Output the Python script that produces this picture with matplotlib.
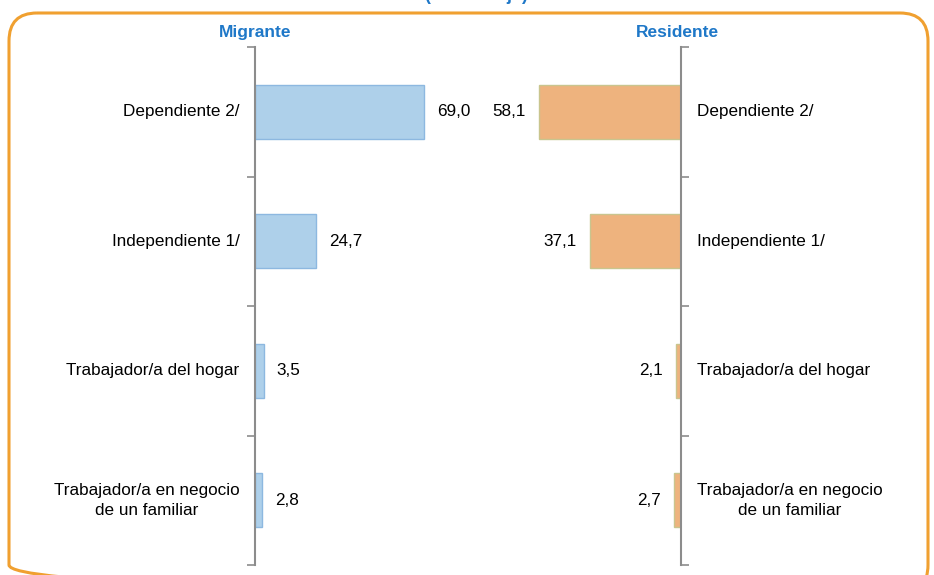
import matplotlib.pyplot as plt
from matplotlib.patches import FancyBboxPatch
from matplotlib import font_manager

categorias = ['Dependiente 2/', 'Independiente 1/', 'Trabajador/a del hogar',
              'Trabajador/a en negocio\nde un familiar']
migrante = [69.0, 24.7, 3.5, 2.8]
residente = [58.1, 37.1, 2.1, 2.7]

names = {f.name for f in font_manager.fontManager.ttflist}
fuente = 'Liberation Sans Narrow' if 'Liberation Sans Narrow' in names else 'Liberation Sans'
plt.rcParams['font.family'] = [fuente, 'DejaVu Sans']

W, H = 934, 575
fig = plt.figure(figsize=(W / 100, H / 100), dpi=100)

def px(x0, y0, x1, y1):
    # pixel box -> figure fraction
    return [x0 / W, 1 - y1 / H, (x1 - x0) / W, (y1 - y0) / H]

# marco redondeado
bg = fig.add_axes([0, 0, 1, 1])
bg.set_xlim(0, W)
bg.set_ylim(H, 0)
bg.axis('off')
bg.add_patch(FancyBboxPatch((9, 13), 919, 580, boxstyle='round,pad=0,rounding_size=28',
                            fill=False, edgecolor='#F0A030', linewidth=2.2, clip_on=False))
fig.text(476 / W, 1 + 4 / H, '(Porcentaje)', ha='center', va='center',
         color='#1F78C8', fontsize=13, fontweight='bold')
fig.text(255 / W, 1 - 37 / H, 'Migrante', ha='center', va='baseline',
         color='#1F78C8', fontweight='bold', fontsize=12.5)
fig.text(677 / W, 1 - 37 / H, 'Residente', ha='center', va='baseline',
         color='#1F78C8', fontweight='bold', fontsize=12.5)

escala = 80
pos = list(range(len(categorias)))
gris = '#8C8C8C'
fs = 12.3

# Migrante
ax1 = fig.add_axes(px(255, 47, 255 + escala * 2.45, 565))
ax1.barh(pos, migrante, height=0.42, color='#AED0EA', edgecolor='#8DB8E0', linewidth=1)
ax1.set_xlim(0, escala)
ax1.set_ylim(3.5, -0.5)
ax1.set_yticks([-0.5, 0.5, 1.5, 2.5, 3.5])
ax1.set_yticklabels([])
ax1.tick_params(axis='y', direction='out', length=6, width=1.2, color=gris)
ax1.set_xticks([])
for s in ['top', 'right', 'bottom']:
    ax1.spines[s].set_visible(False)
ax1.spines['left'].set_color(gris)
ax1.spines['left'].set_linewidth(1.5)
for i, v in enumerate(migrante):
    ax1.annotate(f'{v:.1f}'.replace('.', ','), (v, i), xytext=(9.5, 0),
                 textcoords='offset points', ha='left', va='center', fontsize=fs)
    ax1.annotate(categorias[i], (0, i), xytext=(-11, 0), textcoords='offset points',
                 ha='right', va='center', multialignment='center', fontsize=fs,
                 linespacing=1.45)

# Residente
ax2 = fig.add_axes(px(681 - escala * 2.45, 47, 681, 565))
ax2.barh(pos, residente, height=0.42, color='#EEB37E', edgecolor='#C9C58E', linewidth=1)
ax2.set_xlim(escala, 0)
ax2.set_ylim(3.5, -0.5)
ax2.yaxis.tick_right()
ax2.set_yticks([-0.5, 0.5, 1.5, 2.5, 3.5])
ax2.set_yticklabels([])
ax2.tick_params(axis='y', direction='out', length=6, width=1.2, color=gris)
ax2.set_xticks([])
for s in ['top', 'left', 'bottom']:
    ax2.spines[s].set_visible(False)
ax2.spines['right'].set_color(gris)
ax2.spines['right'].set_linewidth(1.5)
for i, v in enumerate(residente):
    ax2.annotate(f'{v:.1f}'.replace('.', ','), (v, i), xytext=(-9.5, 0),
                 textcoords='offset points', ha='right', va='center', fontsize=fs)
    ax2.annotate(categorias[i], (0, i), xytext=(11.5, 0), textcoords='offset points',
                 ha='left', va='center', multialignment='center', fontsize=fs,
                 linespacing=1.45)

fig.savefig('out.png', dpi=100)
